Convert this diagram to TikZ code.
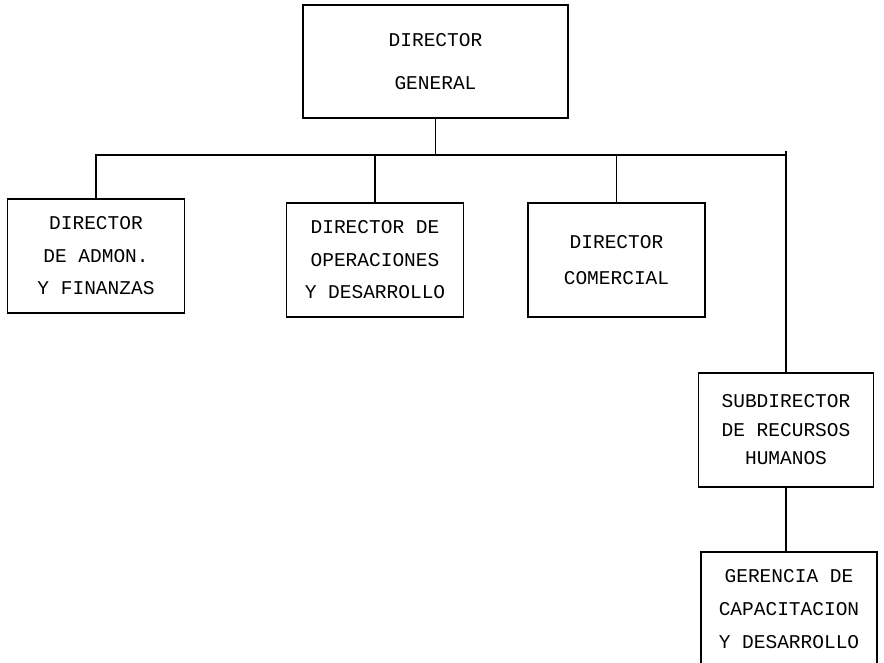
\documentclass[tikz,border=0pt]{standalone}
\usepackage{fontspec}
\newfontfamily\orgfont{Liberation Mono}
\begin{document}
\begin{tikzpicture}[x=1pt, y=-1pt, line width=1.8pt,
    every node/.style={draw, line width=1.8pt, align=center, minimum width=177pt, minimum height=114pt, inner sep=0pt, font=\orgfont\fontsize{19.5}{32.5}\selectfont}]
    \useasboundingbox (0,0) rectangle (884,662);
    % Top level
    \node[minimum width=265pt, minimum height=113pt, font=\orgfont\fontsize{19.5}{43}\selectfont] (gen) at (435.5,61.5) {DIRECTOR\\GENERAL};
    % Second level
    \node (admon) at (96,256) {DIRECTOR\\DE ADMON.\\Y FINANZAS};
    \node (oper) at (375,260) {DIRECTOR DE\\OPERACIONES\\Y DESARROLLO};
    \node[font=\orgfont\fontsize{19.5}{36}\selectfont] (com) at (616.5,260) {DIRECTOR\\COMERCIAL};
    \node[minimum width=175pt, font=\orgfont\fontsize{19.5}{28.5}\selectfont] (sub) at (786,430) {SUBDIRECTOR\\DE RECURSOS\\HUMANOS};
    % Third level
    \node[minimum width=176pt, font=\orgfont\fontsize{19.5}{33}\selectfont] (ger) at (789,609) {GERENCIA DE\\CAPACITACION\\Y DESARROLLO};
    % Connectors
    \coordinate (busR) at (786,155);
    \coordinate (topR) at (786,151);
    \draw (admon.north) |- (busR);
    \draw (topR) -- (sub.north);
    \draw (gen.south) -- (gen.south |- busR);
    \draw (oper.north) -- (oper.north |- busR);
    \draw (com.north) -- (com.north |- busR);
    \draw (sub.south) -- (sub.south |- ger.north);
\end{tikzpicture}
\end{document}
